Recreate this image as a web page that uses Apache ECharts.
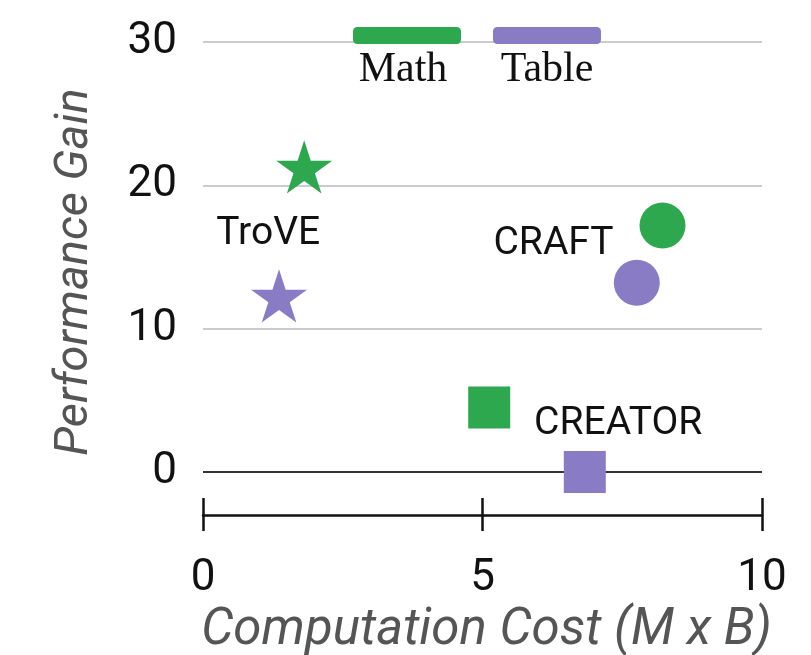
<!DOCTYPE html>
<html>
<head>
<meta charset="utf-8">
<script src="https://cdn.jsdelivr.net/npm/echarts@6/dist/echarts.min.js"></script>
<style>
  html, body { margin: 0; padding: 0; background: #fff; }
  #chart { width: 811px; height: 655px; }
</style>
</head>
<body>
<div id="chart"></div>
<script>
// Methods compared, and the marker used for each one
const methods = ['TroVE', 'CRAFT', 'CREATOR'];

// Computation cost (M x B) and performance gain per method
const mathCost = [1.81, 8.22, 5.12];
const mathGain = [21.1, 17.2, 4.5];
const tableCost = [1.36, 7.76, 6.83];
const tableGain = [12.1, 13.2, 0.0];

// Axis ticks
const xTicks = [0, 5, 10];
const yTicks = [0, 10, 20, 30];

const GREEN = '#2ea84f';
const PURPLE = '#8a7bc5';
const FONT = 'Roboto';

// Five-pointed star outline as an SVG path
function starPath() {
  const pts = [];
  for (let i = 0; i < 10; i++) {
    const r = i % 2 === 0 ? 1 : 0.382;
    const a = (-90 + 36 * i) * Math.PI / 180;
    pts.push((r * Math.cos(a)).toFixed(4) + ',' + (r * Math.sin(a)).toFixed(4));
  }
  return 'path://M' + pts.join('L') + 'Z';
}
const STAR = starPath();

const markerOf = { TroVE: STAR, CRAFT: 'circle', CREATOR: 'rect' };
const sizeOf = { TroVE: 56, CRAFT: 46, CREATOR: 42 };
// The star's bounding box sits slightly above its centre
const offsetOf = { TroVE: [0, -2.6], CRAFT: [0, 0], CREATOR: [0, 0] };

// Method names are written next to the Math marker
const nameOffset = { TroVE: [-36, 67], CRAFT: [-109, 19], CREATOR: [129, 17] };

function points(xs, ys, withNames) {
  return methods.map((m, i) => {
    const item = {
      value: [xs[i], ys[i]],
      symbol: markerOf[m],
      symbolSize: sizeOf[m],
      symbolOffset: offsetOf[m],
      symbolKeepAspect: true
    };
    if (withNames) {
      item.label = {
        show: true,
        formatter: m,
        position: 'inside',
        offset: nameOffset[m],
        color: '#111',
        fontFamily: FONT,
        fontSize: 39
      };
    }
    return item;
  });
}

const chart = echarts.init(document.getElementById('chart'), null, { renderer: 'canvas' });

const xBase = {
  type: 'value',
  min: xTicks[0],
  max: xTicks[xTicks.length - 1],
  interval: xTicks[1] - xTicks[0],
  position: 'bottom',
  offset: 43,
  splitLine: { show: false }
};

chart.setOption({
  animation: false,
  backgroundColor: '#fff',
  grid: { left: 203, right: 49, top: 42, bottom: 183, containLabel: false, outerBoundsMode: 'none' },
  legend: {
    left: 353,
    top: 27,
    padding: 0,
    itemWidth: 108,
    itemHeight: 17,
    itemGap: 32,
    icon: 'roundRect',
    selectedMode: false,
    formatter: () => '',
    data: ['Math', 'Table']
  },
  graphic: [
    {
      type: 'text', x: 403, y: 70,
      style: { text: 'Math', fill: '#111', font: '42px "Liberation Serif"', textAlign: 'center', textVerticalAlign: 'middle' }
    },
    {
      type: 'text', x: 547, y: 70,
      style: { text: 'Table', fill: '#111', font: '42px "Liberation Serif"', textAlign: 'center', textVerticalAlign: 'middle' }
    }
  ],
  xAxis: [
    Object.assign({}, xBase, {
      name: 'Computation Cost (M x B)',
      nameLocation: 'middle',
      nameGap: 88,
      nameTextStyle: { fontFamily: FONT, fontStyle: 'italic', fontSize: 51, color: '#555', padding: [0, 0, 0, 8] },
      axisLine: { show: true, onZero: false, lineStyle: { color: '#111', width: 2.5 } },
      axisTick: { show: true, length: 16, lineStyle: { color: '#111', width: 2.5 } },
      axisLabel: { fontFamily: FONT, fontSize: 44, color: '#111', margin: 42 }
    }),
    Object.assign({}, xBase, {
      axisLine: { show: false, onZero: false },
      axisTick: { show: true, inside: true, length: 17, lineStyle: { color: '#111', width: 2.5 } },
      axisLabel: { show: false }
    })
  ],
  yAxis: {
    type: 'value',
    min: yTicks[0],
    max: yTicks[yTicks.length - 1],
    interval: yTicks[1] - yTicks[0],
    name: 'Performance Gain',
    nameLocation: 'middle',
    nameGap: 104,
    nameTextStyle: { fontFamily: FONT, fontStyle: 'italic', fontSize: 47, color: '#555', padding: [0, 30, 0, 0] },
    axisLine: { show: false },
    axisTick: { show: false },
    axisLabel: { fontFamily: FONT, fontSize: 44, color: '#111', margin: 26 },
    splitLine: { show: true, lineStyle: { color: ['#333', '#cccccc', '#cccccc', '#cccccc'], width: 2 } }
  },
  series: [
    {
      name: 'Math',
      type: 'scatter',
      xAxisIndex: 0,
      itemStyle: { color: GREEN, opacity: 1 },
      data: points(mathCost, mathGain, true),
      z: 3
    },
    {
      name: 'Table',
      type: 'scatter',
      xAxisIndex: 0,
      itemStyle: { color: PURPLE, opacity: 1 },
      data: points(tableCost, tableGain, false),
      z: 3
    }
  ]
});
</script>
</body>
</html>
